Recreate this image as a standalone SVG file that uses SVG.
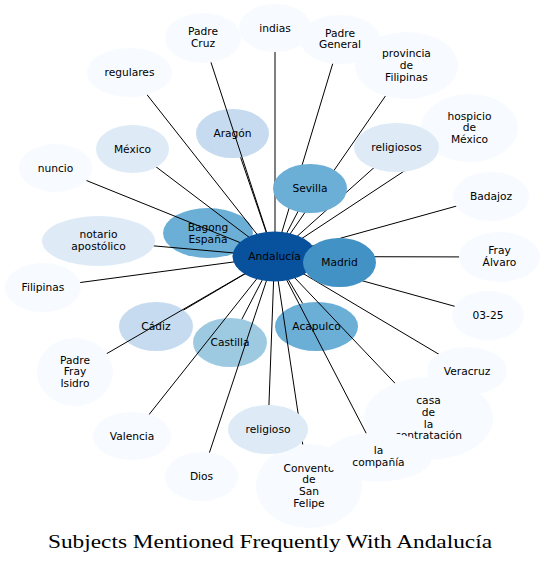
<svg xmlns="http://www.w3.org/2000/svg" width="545" height="565" viewBox="0 0 545 565">
<style>
.t{font-family:"DejaVu Sans","Noto Sans",sans-serif;font-size:10.67px;fill:#000;text-anchor:middle}
.e{stroke:#000;stroke-width:1;fill:none}
.c0{fill:#08519c}.c1{fill:#4292c6}.c2{fill:#6baed6}.c3{fill:#9ecae1}.c4{fill:#c6dbef}.c5{fill:#deebf7}.c6{fill:#f7fbff}
.title{font-family:"Liberation Serif","DejaVu Serif",serif;font-size:18.5px;fill:#000;text-anchor:middle}
</style>
<rect width="545" height="565" fill="#fff"/>
<g id="nodes-under">
<g id="n-aragon"><ellipse class="c4" cx="232.5" cy="133.5" rx="36.5" ry="24.5"/><text class="t" x="232.5" y="137.3">Aragón</text></g>
<g id="n-bagong"><ellipse class="c2" cx="208" cy="233" rx="45" ry="25"/><text class="t" x="208" y="231">Bagong</text><text class="t" x="208" y="242.8">España</text></g>
<g id="n-cadiz"><ellipse class="c4" cx="156" cy="326.5" rx="37" ry="24.5"/><text class="t" x="156" y="330.3">Cádiz</text></g>
<g id="n-castilla"><ellipse class="c3" cx="230" cy="342.5" rx="37" ry="24.5"/><text class="t" x="230" y="346.3">Castilla</text></g>
<g id="n-acapulco"><ellipse class="c2" cx="316.5" cy="326.5" rx="41.5" ry="24.5"/><text class="t" x="316.5" y="330.3">Acapulco</text></g>
</g>
<g id="connectors">
<line class="e" x1="274.5" y1="256.5" x2="203" y2="38"/>
<line class="e" x1="275" y1="256.5" x2="275" y2="28"/>
<line class="e" x1="274.5" y1="256.5" x2="340" y2="39.5"/>
<line class="e" x1="274.5" y1="256.5" x2="406.5" y2="65.5"/>
<line class="e" x1="274.5" y1="256.5" x2="469.5" y2="128"/>
<line class="e" x1="274.5" y1="256.5" x2="396.5" y2="147.5"/>
<line class="e" x1="274.5" y1="256.5" x2="310" y2="188.5"/>
<line class="e" x1="274.5" y1="256.5" x2="491" y2="196.5"/>
<line class="e" x1="274.5" y1="256.5" x2="499.5" y2="257"/>
<line class="e" x1="274.5" y1="256.5" x2="339.5" y2="262.5"/>
<line class="e" x1="274.5" y1="256.5" x2="488" y2="315.5"/>
<line class="e" x1="274.5" y1="256.5" x2="467" y2="371"/>
<line class="e" x1="274.5" y1="256.5" x2="428.5" y2="418.5"/>
<line class="e" x1="274.5" y1="256.5" x2="378.5" y2="457"/>
<line class="e" x1="274.5" y1="256.5" x2="302.6" y2="303.4"/>
<line class="e" x1="274.5" y1="256.5" x2="309" y2="486"/>
<line class="e" x1="274.5" y1="256.5" x2="268" y2="429.5"/>
<line class="e" x1="274.5" y1="256.5" x2="201.5" y2="476.5"/>
<line class="e" x1="274.5" y1="256.5" x2="241.8" y2="319.3"/>
<line class="e" x1="274.5" y1="256.5" x2="132" y2="436"/>
<line class="e" x1="274.5" y1="256.5" x2="183.5" y2="310.1"/>
<line class="e" x1="274.5" y1="256.5" x2="75" y2="372"/>
<line class="e" x1="274.5" y1="256.5" x2="43" y2="287.5"/>
<line class="e" x1="274.5" y1="256.5" x2="98.5" y2="241"/>
<line class="e" x1="274.5" y1="256.5" x2="246.1" y2="246.3"/>
<line class="e" x1="274.5" y1="256.5" x2="55.5" y2="168"/>
<line class="e" x1="274.5" y1="256.5" x2="132.5" y2="149"/>
<line class="e" x1="274.5" y1="256.5" x2="129.5" y2="72.5"/>
<line class="e" x1="274.5" y1="256.5" x2="240.6" y2="157.4"/>
</g>
<g id="nodes-over">
<g id="n-padre-cruz"><ellipse class="c6" cx="203" cy="38" rx="38" ry="25"/><text class="t" x="203" y="35">Padre</text><text class="t" x="203" y="46.8">Cruz</text></g>
<g id="n-indias"><ellipse class="c6" cx="275" cy="28" rx="36" ry="24"/><text class="t" x="275" y="31.8">indias</text></g>
<g id="n-provincia"><ellipse class="c6" cx="406.5" cy="65.5" rx="51.5" ry="33.5"/><text class="t" x="406.5" y="57">provincia</text><text class="t" x="406.5" y="68.8">de</text><text class="t" x="406.5" y="80.6">Filipinas</text></g>
<g id="n-padre-general"><ellipse class="c6" cx="340" cy="39.5" rx="40" ry="24.5"/><text class="t" x="340" y="36.5">Padre</text><text class="t" x="340" y="48.3">General</text></g>
<g id="n-regulares"><ellipse class="c6" cx="129.5" cy="72.5" rx="42.5" ry="24.5"/><text class="t" x="129.5" y="76.3">regulares</text></g>
<g id="n-hospicio"><ellipse class="c6" cx="469.5" cy="128" rx="48.5" ry="34"/><text class="t" x="469.5" y="119.5">hospicio</text><text class="t" x="469.5" y="131.3">de</text><text class="t" x="469.5" y="143.1">México</text></g>
<g id="n-religiosos"><ellipse class="c5" cx="396.5" cy="147.5" rx="42.5" ry="24.5"/><text class="t" x="396.5" y="151.3">religiosos</text></g>
<g id="n-mexico"><ellipse class="c5" cx="132.5" cy="149" rx="36.5" ry="24"/><text class="t" x="132.5" y="152.8">México</text></g>
<g id="n-nuncio"><ellipse class="c6" cx="55.5" cy="168" rx="36.5" ry="24"/><text class="t" x="55.5" y="171.8">nuncio</text></g>
<g id="n-sevilla"><ellipse class="c2" cx="310" cy="188.5" rx="37" ry="24.5"/><text class="t" x="310" y="192.3">Sevilla</text></g>
<g id="n-badajoz"><ellipse class="c6" cx="491" cy="196.5" rx="38" ry="24.5"/><text class="t" x="491" y="200.3">Badajoz</text></g>
<g id="n-notario"><ellipse class="c5" cx="98.5" cy="241" rx="56.5" ry="25"/><text class="t" x="98.5" y="238">notario</text><text class="t" x="98.5" y="249.8">apostólico</text></g>
<g id="n-andalucia"><ellipse class="c0" cx="274.5" cy="256.5" rx="42" ry="25"/><text class="t" x="274.5" y="260.3">Andalucía</text></g>
<g id="n-madrid"><ellipse class="c1" cx="339.5" cy="262.5" rx="36.5" ry="24.5"/><text class="t" x="339.5" y="266.3">Madrid</text></g>
<g id="n-fray-alvaro"><ellipse class="c6" cx="499.5" cy="257" rx="40.5" ry="25"/><text class="t" x="499.5" y="254">Fray</text><text class="t" x="499.5" y="265.8">Álvaro</text></g>
<g id="n-filipinas"><ellipse class="c6" cx="43" cy="287.5" rx="38" ry="24.5"/><text class="t" x="43" y="291.3">Filipinas</text></g>
<g id="n-0325"><ellipse class="c6" cx="488" cy="315.5" rx="36" ry="24.5"/><text class="t" x="488" y="319.3">03-25</text></g>
<g id="n-padre-fray-isidro"><ellipse class="c6" cx="75" cy="372" rx="38" ry="34"/><text class="t" x="75" y="363.5">Padre</text><text class="t" x="75" y="375.3">Fray</text><text class="t" x="75" y="387.1">Isidro</text></g>
<g id="n-veracruz"><ellipse class="c6" cx="467" cy="371" rx="40" ry="24"/><text class="t" x="467" y="374.8">Veracruz</text></g>
<g id="n-casa"><ellipse class="c6" cx="428.5" cy="418.5" rx="64.5" ry="41.5"/><text class="t" x="428.5" y="404">casa</text><text class="t" x="428.5" y="415.8">de</text><text class="t" x="428.5" y="427.6">la</text><text class="t" x="428.5" y="439.4">contratación</text></g>
<g id="n-valencia"><ellipse class="c6" cx="132" cy="436" rx="39" ry="24"/><text class="t" x="132" y="439.8">Valencia</text></g>
<g id="n-convento"><ellipse class="c6" cx="309" cy="486" rx="53" ry="42"/><text class="t" x="309" y="471.5">Convento</text><text class="t" x="309" y="483.3">de</text><text class="t" x="309" y="495.1">San</text><text class="t" x="309" y="506.9">Felipe</text></g>
<g id="n-religioso"><ellipse class="c5" cx="268" cy="429.5" rx="40" ry="24.5"/><text class="t" x="268" y="433.3">religioso</text></g>
<g id="n-compania"><ellipse class="c6" cx="378.5" cy="457" rx="53.5" ry="24.5"/><text class="t" x="378.5" y="454">la</text><text class="t" x="378.5" y="465.8">compañía</text></g>
<g id="n-dios"><ellipse class="c6" cx="201.5" cy="476.5" rx="36.5" ry="24.5"/><text class="t" x="201.5" y="480.3">Dios</text></g>
</g>
<text class="title" x="270" y="548" textLength="444" lengthAdjust="spacingAndGlyphs">Subjects Mentioned Frequently With Andalucía</text>
</svg>
